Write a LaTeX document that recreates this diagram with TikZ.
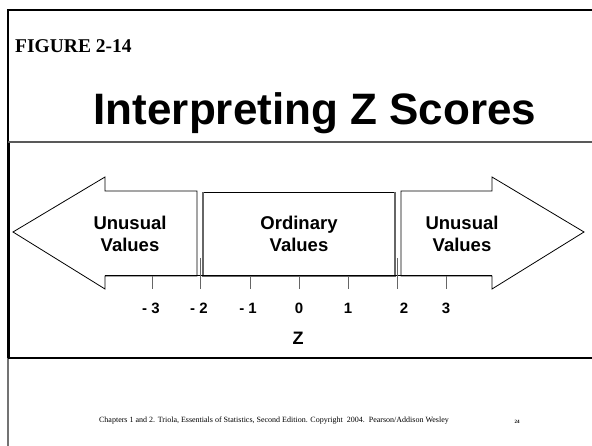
\documentclass[tikz,border=0pt]{standalone}
\usepackage{fontspec}
\setmainfont{Liberation Serif}
\newfontfamily\arialfont{Liberation Sans}

\tikzset{
  arrowbox/.style={draw, line width=0.8pt, fill=white},
  valtext/.style={font=\arialfont\bfseries\fontsize{18.5}{22}\selectfont, align=center},
  ticklabel/.style={font=\arialfont\bfseries\fontsize{15}{18}\selectfont},
  zmark/.style={draw=black!60, line width=1pt},
}

\begin{document}
\begin{tikzpicture}[x=1pt,y=1pt,yscale=-1]
\useasboundingbox (0,0) rectangle (592,446);

% frame and rules
\draw [line width=2pt] (8,143) -- (8,10) -- (592,10);
\draw [line width=3.4pt] (8.6,143) -- (8.6,358);
\draw [color=black!55, line width=2pt] (8,358) -- (8,446);
\draw [color=black!65, line width=1.3pt] (8,142) -- (592,142);
\draw [line width=1.4pt] (8,358) -- (592,358);

\node (fig) [anchor=base west, inner sep=0pt, font=\bfseries\fontsize{19.5}{22}\selectfont] at (15,53) {FIGURE 2-14};
\node (title) [anchor=base, font=\arialfont\bfseries\fontsize{44}{50}\selectfont] at (315,125) {Interpreting Z Scores};

% the two outer arrows
\draw [arrowbox] (13,232) -- (105,177) -- (105,191) -- (197,191) -- (197,276) -- (105,276) -- (105,289) -- cycle;
\draw [arrowbox] (584,232) -- (492,177) -- (492,191) -- (401,191) -- (401,276) -- (492,276) -- (492,289) -- cycle;

% middle box
\draw [line width=0.8pt] (203,192) rectangle (395,276);
\draw [zmark, line width=1.6pt] (395,192) -- (395,276) -- (203,276) -- (203,192);

% axis and ticks
\draw [line width=1pt] (105,276) -- (492,276);
\foreach \z in {-3,-1,0,1,3}
  \draw [zmark] (299+49*\z,276) -- (299+49*\z,289);
\draw [zmark] (200,258) -- (200,289);
\draw [zmark] (397,258) -- (397,289);

\node (leftval) [valtext] at (130,234) {Unusual\\Values};
\node (midval) [valtext] at (299,234) {Ordinary\\Values};
\node (rightval) [valtext] at (462,234) {Unusual\\Values};

\foreach \x/\lab/\nm in {151/- 3/m3, 199/- 2/m2, 248/- 1/m1, 299/0/n0, 348/1/p1, 404/2/p2, 446/3/p3}
  \node (z\nm) [ticklabel] at (\x,308) {\lab};
\node (zname) [font=\arialfont\bfseries\fontsize{18}{20}\selectfont] at (298,338) {Z};

\node (footer) [font=\fontsize{8}{10}\selectfont] at (274,421) {Chapters 1 and 2. Triola, Essentials of Statistics, Second Edition. Copyright\ \ 2004.\ \ Pearson/Addison Wesley};
\node (pageno) [font=\bfseries\fontsize{5}{6}\selectfont] at (517,422) {24};
\end{tikzpicture}
\end{document}
